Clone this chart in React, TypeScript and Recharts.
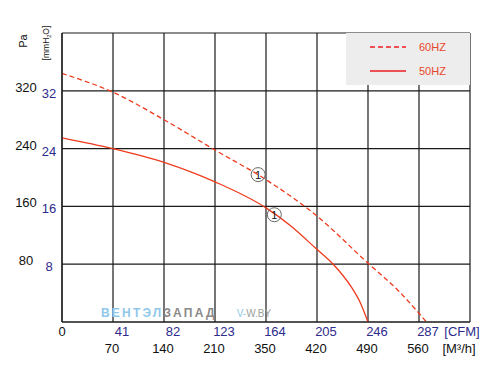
import { LineChart, Line, XAxis, YAxis, CartesianGrid, ReferenceDot, Legend } from 'recharts'

// airflow in CFM, pressure in mmH2O
const flow50 = [0, 41, 82, 123, 164, 184, 204, 218, 232, 240, 246]
const press50 = [25.5, 24.0, 22.1, 19.4, 15.8, 13.3, 10.2, 8.0, 5.0, 2.6, 0]
const flow60 = [0, 41, 82, 123, 164, 204, 245, 270, 286, 293]
const press60 = [34.4, 31.8, 28.0, 23.8, 19.7, 14.8, 8.3, 4.4, 1.4, 0]

const cfmTicks = [0, 41, 82, 123, 164, 205, 246, 287, 328]
const cfmLabels = ['0', '41', '82', '123', '164', '205', '246', '287', '[CFM]']
const m3hLabels = ['', '70', '140', '210', '350', '420', '490', '560', '[M³/h]']
const mmTicks = [0, 8, 16, 24, 32, 40]
const mmLabels = ['', '8', '16', '24', '32', '']
const paLabels = ['', '80', '160', '240', '320', '']

// operating points marked with (1)
const markFlow = [157.7, 170.7]
const markPress = [20.4, 14.85]

const data50 = flow50.map((q, i) => ({ q, p: press50[i] }))
const data60 = flow60.map((q, i) => ({ q, p: press60[i] }))

const FONT = '"Liberation Sans", Arial, sans-serif'
const BLUE = '#2e2b8c'
const CURVE = '#ee3a1c'
const LEGEND_RED = '#ee1c24'

function XTick(props: any) {
  const { x, y, index } = props
  const last = index === cfmTicks.length - 1
  if (index === 0) {
    return (
      <text x={x} y={y + 14} textAnchor="middle" fontSize={13} fill="#111" fontFamily={FONT}>
        0
      </text>
    )
  }
  return (
    <g fontFamily={FONT} fontSize={13}>
      <text x={last ? x - 8 : x + 9} y={y + 14} textAnchor="middle" fill={BLUE}>
        {cfmLabels[index]}
      </text>
      <text x={last ? x - 11 : x - 1} y={y + 31} textAnchor="middle" fill="#111">
        {m3hLabels[index]}
      </text>
    </g>
  )
}

function YTick(props: any) {
  const { x, y, index } = props
  return (
    <g fontFamily={FONT} fontSize={13}>
      <text x={x - 36} y={y + 1} textAnchor="middle" fill="#111">
        {paLabels[index]}
      </text>
      <text x={x - 13} y={y + 7} textAnchor="middle" fill={BLUE}>
        {mmLabels[index]}
      </text>
    </g>
  )
}

function YTitle() {
  return (
    <g fontFamily={FONT}>
      <text x={27} y={41} transform="rotate(-90 27 41)" textAnchor="middle" fontSize={11} fill="#111">
        Pa
      </text>
      <text x={49} y={43} transform="rotate(-90 49 43)" textAnchor="middle" fontSize={8.5} fill="#111">
        [mmH<tspan fontSize={5.5} dy={1.5}>2</tspan><tspan dy={-1.5}>O]</tspan>
      </text>
    </g>
  )
}

function Marker(props: any) {
  const { cx, cy } = props
  return (
    <g>
      <circle cx={cx} cy={cy} r={7} fill="none" stroke="#666" strokeWidth={1} />
      <text x={cx} y={cy + 4} textAnchor="middle" fontSize={11} fill="#111" fontFamily={FONT}>
        1
      </text>
    </g>
  )
}

function LegendBox(props: any) {
  const items = [...(props.payload ?? [])].reverse()
  return (
    <div style={{ width: 124, height: 52, background: '#ecedec', fontFamily: FONT }}>
      {items.map((it: any, i: number) => (
        <div key={i} style={{ position: 'absolute', left: 24, top: 7 + i * 24, height: 13, display: 'flex', alignItems: 'center' }}>
          <svg width={36} height={4}>
            <line
              x1={0}
              y1={2}
              x2={36}
              y2={2}
              stroke={LEGEND_RED}
              strokeWidth={1.3}
              strokeDasharray={it.payload?.strokeDasharray}
            />
          </svg>
          <span style={{ marginLeft: 13, fontSize: 11, color: '#e8462a' }}>{it.value}</span>
        </div>
      ))}
    </div>
  )
}

export default function App() {
  return (
    <div style={{ position: 'absolute', left: 0, top: 0, width: 500, height: 378, background: '#fff' }}>
      <LineChart width={500} height={378} margin={{ top: 33, right: 30, bottom: 0, left: 8 }}>
        <CartesianGrid stroke="#1a1a1a" strokeWidth={1.2} horizontalValues={mmTicks} verticalValues={cfmTicks} />
        <XAxis
          type="number"
          dataKey="q"
          domain={[0, 328]}
          ticks={cfmTicks}
          interval={0}
          height={56}
          tickSize={0}
          tickMargin={0}
          tickLine={false}
          axisLine={{ stroke: '#1a1a1a', strokeWidth: 1.2 }}
          tick={<XTick />}
        />
        <YAxis
          type="number"
          domain={[0, 40]}
          ticks={mmTicks}
          interval={0}
          width={54}
          tickSize={0}
          tickMargin={0}
          tickLine={false}
          axisLine={{ stroke: '#1a1a1a', strokeWidth: 1.2 }}
          tick={<YTick />}
          label={<YTitle />}
        />
        <Legend
          layout="horizontal"
          verticalAlign="middle"
          align="center"
          wrapperStyle={{ position: 'absolute', left: 346, top: 33, width: 124, height: 52 }}
          content={<LegendBox />}
        />
        <Line
          data={data50}
          dataKey="p"
          name="50HZ"
          type="monotone"
          stroke={CURVE}
          strokeWidth={1.3}
          dot={false}
          isAnimationActive={false}
        />
        <Line
          data={data60}
          dataKey="p"
          name="60HZ"
          type="monotone"
          stroke={CURVE}
          strokeWidth={1.3}
          strokeDasharray="5 3"
          dot={false}
          isAnimationActive={false}
        />
        {markFlow.map((q, i) => (
          <ReferenceDot key={i} x={q} y={markPress[i]} r={7} shape={<Marker />} />
        ))}
      </LineChart>
      <div
        style={{
          position: 'absolute',
          left: 101,
          top: 306,
          fontFamily: FONT,
          fontWeight: 'bold',
          fontSize: 12,
          letterSpacing: 2.2,
          whiteSpace: 'nowrap',
        }}
      >
        <span style={{ color: '#8fc8ea' }}>ВЕНТЭЛ</span>
        <span style={{ color: '#8a8a8a' }}>ЗАПАД</span>
        <span style={{ fontWeight: 'normal', fontSize: 10, letterSpacing: 0, marginLeft: 20 }}>
          <span style={{ color: '#8fc8ea' }}>V-</span>
          <span style={{ color: '#a0a0a0' }}>W.BY</span>
        </span>
      </div>
    </div>
  )
}
